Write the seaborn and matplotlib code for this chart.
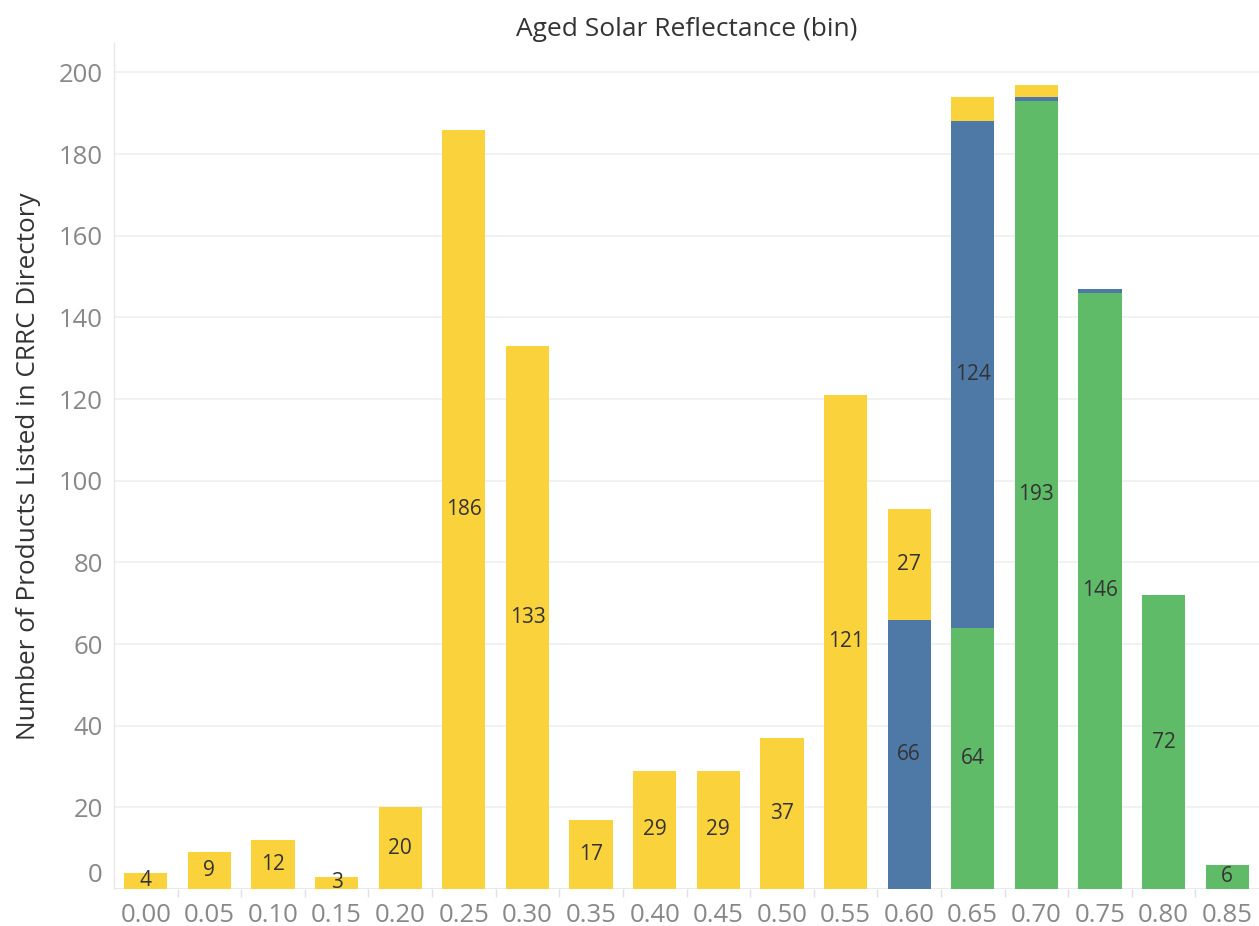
import matplotlib
matplotlib.use("Agg")
import matplotlib.pyplot as plt
import matplotlib.transforms as mtransforms
import seaborn as sns
import numpy as np
import pandas as pd

bins = ["0.00", "0.05", "0.10", "0.15", "0.20", "0.25", "0.30", "0.35", "0.40",
        "0.45", "0.50", "0.55", "0.60", "0.65", "0.70", "0.75", "0.80", "0.85"]
green_vals = [0, 0, 0, 0, 0, 0, 0, 0, 0, 0, 0, 0, 0, 64, 193, 146, 72, 6]
blue_vals = [0, 0, 0, 0, 0, 0, 0, 0, 0, 0, 0, 0, 66, 124, 1, 1, 0, 0]
yellow_vals = [4, 9, 12, 3, 20, 186, 133, 17, 29, 29, 37, 121, 27, 6, 3, 0, 0, 0]
y_ticks = [0, 20, 40, 60, 80, 100, 120, 140, 160, 180, 200]

GREEN = "#5FBB68"
BLUE = "#4E79A7"
YELLOW = "#F9D23C"

sns.set_theme(style="white")
plt.rcParams["font.family"] = ["Open Sans", "DejaVu Sans"]

fig = plt.figure(figsize=(12.59, 9.26), dpi=100)
ax = fig.add_axes([114 / 1259, 1 - 889 / 926, 1 - 114 / 1259, (889 - 43) / 926])

df = pd.DataFrame({"bin": bins, "green": green_vals, "blue": blue_vals, "yellow": yellow_vals})
g = np.array(green_vals, dtype=float)
b = np.array(blue_vals, dtype=float)
yv = np.array(yellow_vals, dtype=float)

layers = [("green", GREEN, np.zeros(len(bins))), ("blue", BLUE, g), ("yellow", YELLOW, g + b)]
for col, color, bottom in layers:
    sns.barplot(data=df, x="bin", y=col, order=bins, color=color, bottom=bottom,
                errorbar=None, width=0.68, saturation=1, linewidth=0, ax=ax, zorder=3)

# labels
totals_count = (g > 0).astype(int) + (b > 0).astype(int) + (yv > 0).astype(int)
for vals, bottom in [(g, np.zeros(len(bins))), (b, g), (yv, g + b)]:
    for i, v in enumerate(vals):
        if v <= 0:
            continue
        if totals_count[i] == 1 or v >= 10:
            ax.text(i, bottom[i] + v / 2, f"{int(v)}", ha="center", va="center",
                    fontsize=15, color="#333333", zorder=5)

ax.set_xlim(-0.5, len(bins) - 0.5)
ax.set_ylim(0, 207.2)
ax.set_yticks(y_ticks)
ax.set_yticklabels([str(t) for t in y_ticks])
ax.grid(axis="y", color="#EFEFEF", linewidth=1.2, zorder=0)
ax.set_axisbelow(True)
for s in ["top", "right", "bottom"]:
    ax.spines[s].set_visible(False)
ax.spines["left"].set_color("#E8E8E8")
ax.spines["left"].set_linewidth(1)
ax.axhline(0, color="#E8E8E8", linewidth=1.2, zorder=1)

ax.tick_params(axis="y", length=0, pad=8, labelsize=18.5, labelcolor="#888888")
ax.tick_params(axis="x", which="major", length=0, pad=10, labelsize=18.5, labelcolor="#888888")
ax.set_xticks(np.arange(len(bins) - 1) + 0.5, minor=True)
ax.tick_params(axis="x", which="minor", length=6, width=1, color="#E0E0E0", bottom=True)

# shift the 0 label up as in the reference
lbl0 = ax.yaxis.get_major_ticks()[0].label1
lbl0.set_transform(lbl0.get_transform() + mtransforms.ScaledTranslation(0, 17 / 100, fig.dpi_scale_trans))

ax.set_xlabel("")
ax.set_ylabel("Number of Products Listed in CRRC Directory", fontsize=18.8, color="#333333",
              labelpad=13)
ax.set_title("Aged Solar Reflectance (bin)", fontsize=19, color="#333333", pad=5)

fig.savefig("out.png", dpi=100)
